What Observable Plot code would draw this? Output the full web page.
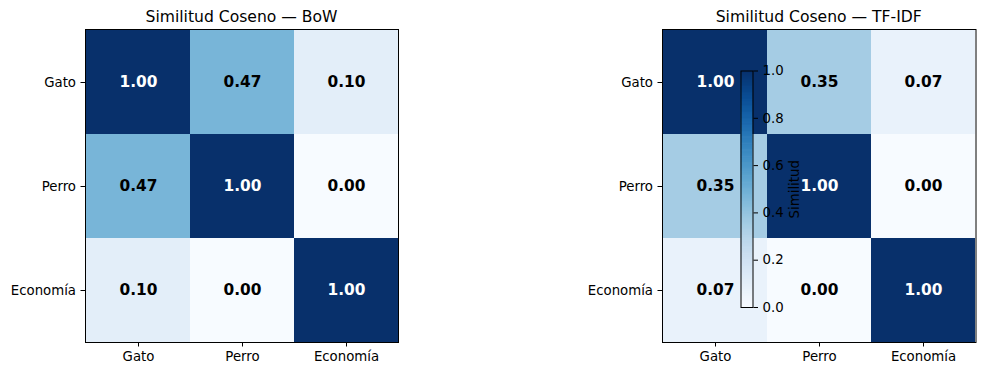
<!DOCTYPE html>
<html><head><meta charset="utf-8">
<script src="https://cdn.jsdelivr.net/npm/d3@7"></script>
<script src="https://cdn.jsdelivr.net/npm/@observablehq/plot@0.6"></script>
<style>
body{margin:0;background:#fff;}
#root{position:relative;width:984px;height:374px;font-family:"DejaVu Sans";overflow:hidden;background:#fff;}
.panel{position:absolute;top:0;}
.title{position:absolute;top:9px;font-size:15.6px;line-height:16px;text-align:center;color:#000;white-space:nowrap;font-family:"DejaVu Sans";}
</style></head><body><div id="root"></div>
<script>
const categories = ["Gato", "Perro", "Economía"];
const bowValues = [[1.00, 0.47, 0.10], [0.47, 1.00, 0.00], [0.10, 0.00, 1.00]];
const tfidfValues = [[1.00, 0.35, 0.07], [0.35, 1.00, 0.00], [0.07, 0.00, 1.00]];
const titles = ["Similitud Coseno — BoW", "Similitud Coseno — TF-IDF"];
const colorDomain = [0, 1];
const colorbarTicks = [0, 0.2, 0.4, 0.6, 0.8, 1.0];
const colorbarLabel = "Similitud";

const root = document.getElementById("root");
const baseStyle = {fontFamily: "DejaVu Sans", fontSize: "13.3px", color: "black", background: "transparent", overflow: "visible"};

function table(values) {
  const rows = [];
  values.forEach((r, i) => r.forEach((v, j) => rows.push({row: categories[i], col: categories[j], value: v})));
  return rows;
}

function heatmap(values, left, marginLeft, marginRight, title) {
  const data = table(values);
  const chart = Plot.plot({
    width: 492, height: 374,
    marginLeft, marginRight, marginTop: 29, marginBottom: 32,
    x: {domain: categories, padding: 0, axis: null},
    y: {domain: categories, padding: 0, axis: null},
    color: {type: "linear", scheme: "blues", domain: colorDomain},
    style: baseStyle,
    marks: [
      Plot.cell(data, {x: "col", y: "row", fill: "value", inset: 0}),
      Plot.text(data, {x: "col", y: "row", text: d => d.value.toFixed(2), filter: d => d.value > 0.5, fill: "white", fontWeight: "bold", fontSize: 15.4}),
      Plot.text(data, {x: "col", y: "row", text: d => d.value.toFixed(2), filter: d => d.value <= 0.5, fill: "black", fontWeight: "bold", fontSize: 15.4}),
      Plot.frame({stroke: "black"}),
      Plot.axisX({anchor: "bottom", tickSize: 4.5, tickPadding: 5, label: null}),
      Plot.axisY({anchor: "left", tickSize: 4.5, tickPadding: 5, label: null})
    ]
  });
  const wrap = document.createElement("div");
  wrap.className = "panel";
  wrap.style.left = left + "px";
  wrap.appendChild(chart);
  root.appendChild(wrap);
  const t = document.createElement("div");
  t.className = "title";
  t.style.left = (left + marginLeft) + "px";
  t.style.width = (492 - marginLeft - marginRight) + "px";
  t.textContent = title;
  root.appendChild(t);
}

heatmap(bowValues, 0, 85, 94, titles[0]);
heatmap(tfidfValues, 492, 170, 8.5, titles[1]);

// colorbar: gradient slices sampled across the colour domain
const nStops = 200;
const step = (colorDomain[1] - colorDomain[0]) / nStops;
const colorbarStops = d3.range(nStops).map(i => colorDomain[0] + i * step);
const cb = Plot.plot({
  width: 120, height: 374,
  marginLeft: 40.5, marginRight: 67.5, marginTop: 70.5, marginBottom: 67,
  x: {domain: colorDomain, axis: null},
  y: {domain: colorDomain, axis: null},
  color: {type: "linear", scheme: "blues", domain: colorDomain},
  style: baseStyle,
  marks: [
    Plot.rect(colorbarStops, {x1: colorDomain[0], x2: colorDomain[1], y1: d => d, y2: d => Math.min(colorDomain[1], d + step * 1.5), fill: d => d + step / 2}),
    Plot.frame({stroke: "black"}),
    Plot.axisY({anchor: "right", ticks: colorbarTicks, tickFormat: ".1f", tickSize: 4.5, tickPadding: 5, label: colorbarLabel, labelAnchor: "center", labelArrow: false, labelOffset: 46})
  ]
});
const cbWrap = document.createElement("div");
cbWrap.className = "panel";
cbWrap.style.left = "700px";
cbWrap.appendChild(cb);
root.appendChild(cbWrap);
</script></body></html>
